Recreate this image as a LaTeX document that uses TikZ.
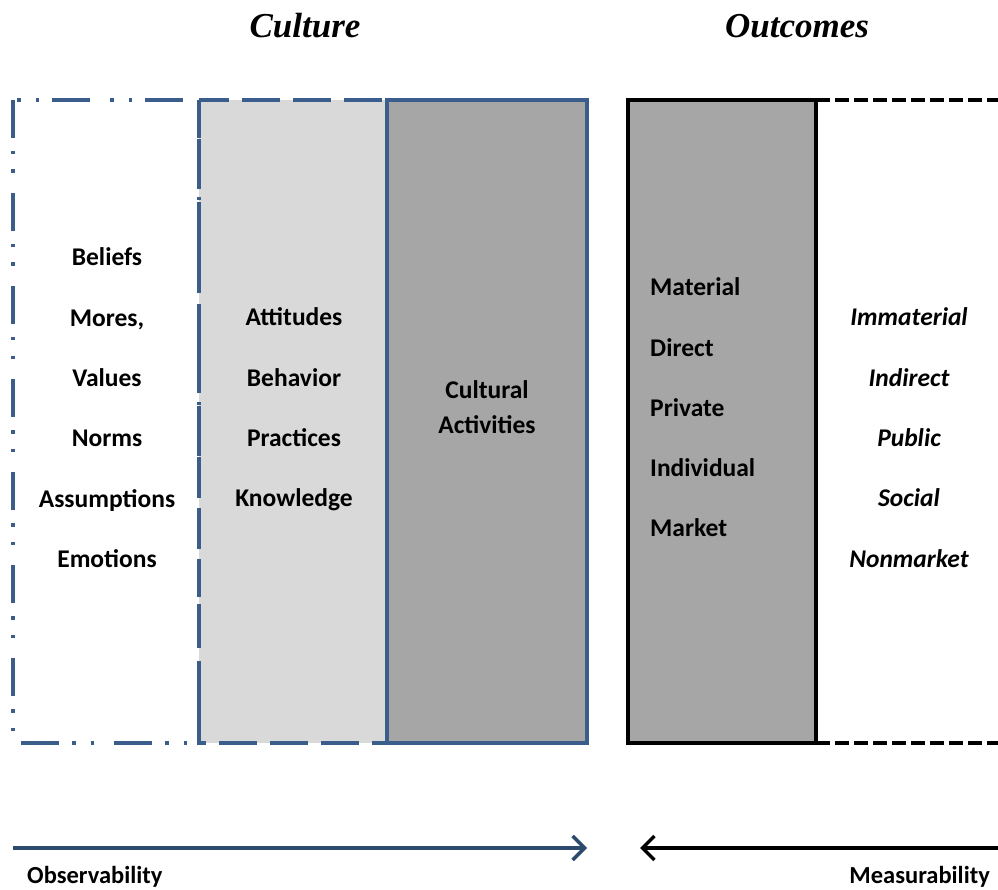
\documentclass[tikz,border=0pt]{standalone}
\usepackage{fontspec}
\setmainfont{Carlito}
\newfontfamily\headfont{Liberation Serif}
\usetikzlibrary{arrows.meta}
\definecolor{slate}{HTML}{3A5D8C}
\definecolor{navy}{HTML}{2C4A6E}
\definecolor{lightgrey}{HTML}{D9D9D9}
\definecolor{midgrey}{HTML}{A6A6A6}
\tikzset{
    boxline/.style={line width=3.6pt,line cap=butt},
    dashdotdot/.style={boxline,draw=slate,
      dash pattern=on 38pt off 13pt on 3.5pt off 15pt on 3.5pt off 20pt},
    longdash/.style={boxline,draw=slate,dash pattern=on 38pt off 13pt},
    shortdash/.style={boxline,draw=black,dash pattern=on 14pt off 5pt},
    item/.style={font=\bfseries\fontsize{25.5}{30}\selectfont,inner sep=0pt,anchor=base},
    italitem/.style={item,font=\bfseries\itshape\fontsize{25.5}{30}\selectfont},
    heading/.style={font=\headfont\bfseries\itshape\fontsize{35}{40}\selectfont,
      inner sep=0pt,anchor=base},
    axislabel/.style={font=\bfseries\fontsize{24.5}{28}\selectfont,inner sep=0pt,anchor=base},
    scalearrow/.style={line width=3.4pt,-{Straight Barb[length=12pt,width=24pt,line width=3.4pt]}}
}
\begin{document}
\begin{tikzpicture}[x=1pt,y=-1pt]
  \useasboundingbox (0,0) rectangle (998,890);

  % headings
  \node[heading] (culture) at (305,38) {Culture};
  \node[heading] (outcomes) at (797,38) {Outcomes};

  % culture columns
  \fill[white] (13,100) rectangle (199,743);
  \fill[lightgrey] (199,100) rectangle (387,743);
  \fill[midgrey] (387,100) rectangle (587,743);
  \draw[dashdotdot] (13,100) rectangle (199,743);
  \draw[longdash] (199,100) rectangle (387,743);
  \draw[boxline,draw=slate] (387,100) rectangle (587,743);

  % outcome columns
  \fill[midgrey] (628,100) rectangle (816,743);
  \draw[shortdash] (816,100) -- (1000,100);
  \draw[shortdash] (816,743) -- (1000,743);
  \draw[boxline,line join=miter] (628,100) rectangle (816,743);

  % column entries
  \foreach \w [count=\i] in {Beliefs,{Mores,},Values,Norms,Assumptions,Emotions}
    \node[item] (deep\i) at (107,266+60.3*\i-60.3) {\w};
  \foreach \w [count=\i] in {Attitudes,Behavior,Practices,Knowledge}
    \node[item] (mid\i) at (294,326+60.3*\i-60.3) {\w};
  \node[item] (act1) at (487,398) {Cultural};
  \node[item] (act2) at (487,433) {Activities};
  \foreach \w [count=\i] in {Material,Direct,Private,Individual,Market}
    \node[item,anchor=base west] (mat\i) at (650,296+60*\i-60) {\w};
  \foreach \w [count=\i] in {Immaterial,Indirect,Public,Social,Nonmarket}
    \node[italitem] (imm\i) at (909,326+60.3*\i-60.3) {\w};

  % axes below
  \coordinate (obsstart) at (13,848);
  \coordinate (obsend) at (587,848);
  \coordinate (measstart) at (998,848);
  \coordinate (measend) at (640,848);
  \draw[scalearrow,navy] (obsstart) -- (obsend);
  \draw[scalearrow,black] (measstart) -- (measend);
  \node[axislabel,anchor=base west] (obs) at (27,883) {Observability};
  \node[axislabel,anchor=base east] (meas) at (990,883) {Measurability};
\end{tikzpicture}
\end{document}
